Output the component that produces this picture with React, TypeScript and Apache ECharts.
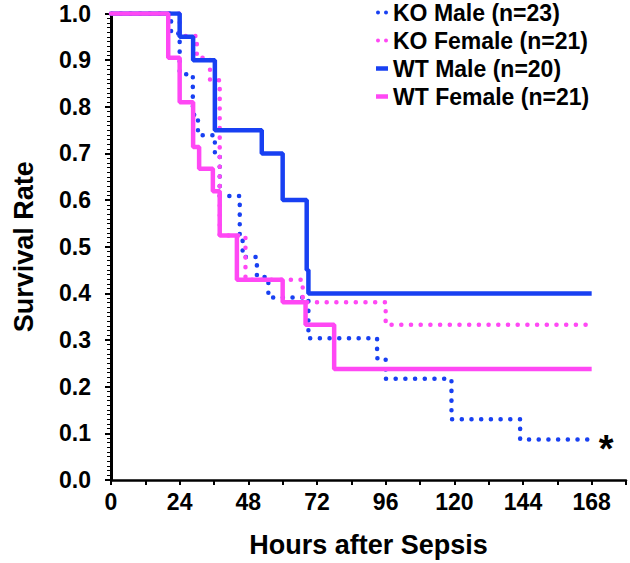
import React, { useEffect, useRef } from "react";
import * as echarts from "echarts";

// Kaplan-Meier step data (hours after sepsis, survival rate)
const koMaleHours = [0, 21, 24, 28.6, 30.4, 36.3, 38, 45, 46, 51, 55, 69, 93, 96, 119, 143, 168];
const koMaleSurv = [1, 0.957, 0.87, 0.783, 0.739, 0.696, 0.609, 0.522, 0.478, 0.435, 0.391, 0.304, 0.261, 0.217, 0.13, 0.087, 0.087];

const koFemaleHours = [0, 24, 30, 34.6, 38, 47, 67, 96, 168];
const koFemaleSurv = [1, 0.952, 0.905, 0.857, 0.524, 0.429, 0.381, 0.333, 0.333];

const wtMaleHours = [0, 24, 28.7, 36.3, 52.7, 60, 68.4, 69, 168];
const wtMaleSurv = [1, 0.95, 0.9, 0.75, 0.7, 0.6, 0.45, 0.4, 0.4];

const wtFemaleHours = [0, 20, 24, 28.7, 30.8, 35.6, 38, 44, 60, 68, 78, 168];
const wtFemaleSurv = [1, 0.905, 0.81, 0.714, 0.667, 0.619, 0.524, 0.429, 0.381, 0.333, 0.238, 0.238];

const seriesNames = ["KO Male (n=23)", "KO Female (n=21)", "WT Male (n=20)", "WT Female (n=21)"];
const xTickLabels = [0, 24, 48, 72, 96, 120, 144, 168];

const BLUE = "#1840f2";
const MAGENTA = "#ff48f4";
const FONT = '"Liberation Sans", Arial, Helvetica, sans-serif';
const DOTS_ICON = "path://M0,2a2,2 0 1,0 4,0a2,2 0 1,0 -4,0M8,2a2,2 0 1,0 4,0a2,2 0 1,0 -4,0";

const pairs = (h: number[], s: number[]) => h.map((x, i) => [x, s[i]]);

export default function App() {
  const ref = useRef<HTMLDivElement>(null);
  useEffect(() => {
    if (!ref.current) return;
    const chart = echarts.init(ref.current, undefined, { renderer: "svg" });
    const dotted = { type: [0.1, 9.6] as any, cap: "round" as const, width: 4.5 };
    const option = {
      animation: false,
      backgroundColor: "#ffffff",
      grid: { left: 111, right: 4, top: 13.5, bottom: 79, containLabel: false },
      legend: {
        orient: "vertical",
        left: 376,
        top: 1,
        padding: 0,
        itemWidth: 12,
        itemHeight: 4.5,
        itemGap: 5,
        textStyle: { fontSize: 23, fontWeight: "bold", color: "#000", fontFamily: FONT, lineHeight: 23 },
        data: [
          { name: seriesNames[0], icon: DOTS_ICON },
          { name: seriesNames[1], icon: DOTS_ICON },
          { name: seriesNames[2], icon: "rect" },
          { name: seriesNames[3], icon: "rect" },
        ],
      },
      xAxis: {
        type: "value",
        min: 0,
        max: 180,
        interval: 12,
        name: "Hours after Sepsis",
        nameLocation: "middle",
        nameGap: 51,
        nameTextStyle: { fontSize: 27, fontWeight: "bold", color: "#000", fontFamily: FONT },
        axisLine: { lineStyle: { color: "#000", width: 2.5 } },
        axisTick: { length: 5, lineStyle: { color: "#000", width: 2 } },
        axisLabel: {
          formatter: (v: number) => (xTickLabels.includes(v) ? String(v) : ""),
          fontSize: 23,
          fontWeight: "bold",
          color: "#000",
          fontFamily: FONT,
          margin: 10,
        },
        splitLine: { show: false },
      },
      yAxis: {
        type: "value",
        min: 0,
        max: 1,
        interval: 0.1,
        name: "Survival Rate",
        nameLocation: "middle",
        nameGap: 74,
        nameTextStyle: { fontSize: 27, fontWeight: "bold", color: "#000", fontFamily: FONT },
        axisLine: { show: true, lineStyle: { color: "#000", width: 3 } },
        axisTick: { show: true, length: 6, lineStyle: { color: "#000", width: 2 } },
        minorTick: { show: true, splitNumber: 10, length: 4, lineStyle: { color: "#000", width: 1 } },
        axisLabel: {
          formatter: (v: number) => v.toFixed(1),
          fontSize: 23,
          fontWeight: "bold",
          color: "#000",
          fontFamily: FONT,
          margin: 20,
        },
        splitLine: { show: false },
      },
      series: [
        {
          name: seriesNames[0],
          type: "line",
          step: "end",
          symbol: "none",
          color: BLUE,
          lineStyle: { ...dotted, color: BLUE },
          data: pairs(koMaleHours, koMaleSurv),
          endLabel: {
            show: true,
            formatter: "*",
            fontSize: 38,
            fontWeight: "bold",
            color: "#000",
            fontFamily: FONT,
            distance: 7,
            offset: [0, 10],
          },
        },
        {
          name: seriesNames[1],
          type: "line",
          step: "end",
          symbol: "none",
          color: MAGENTA,
          lineStyle: { ...dotted, color: MAGENTA },
          data: pairs(koFemaleHours, koFemaleSurv),
        },
        {
          name: seriesNames[2],
          type: "line",
          step: "end",
          symbol: "none",
          color: BLUE,
          lineStyle: { width: 4.5, color: BLUE },
          data: pairs(wtMaleHours, wtMaleSurv),
        },
        {
          name: seriesNames[3],
          type: "line",
          step: "end",
          symbol: "none",
          color: MAGENTA,
          lineStyle: { width: 4.5, color: MAGENTA },
          data: pairs(wtFemaleHours, wtFemaleSurv),
        },
      ],
    };
    chart.setOption(option as any);
    return () => chart.dispose();
  }, []);
  return (
    <div
      ref={ref}
      style={{ position: "fixed", left: 0, top: 0, width: 630, height: 563, background: "#fff" }}
    />
  );
}
